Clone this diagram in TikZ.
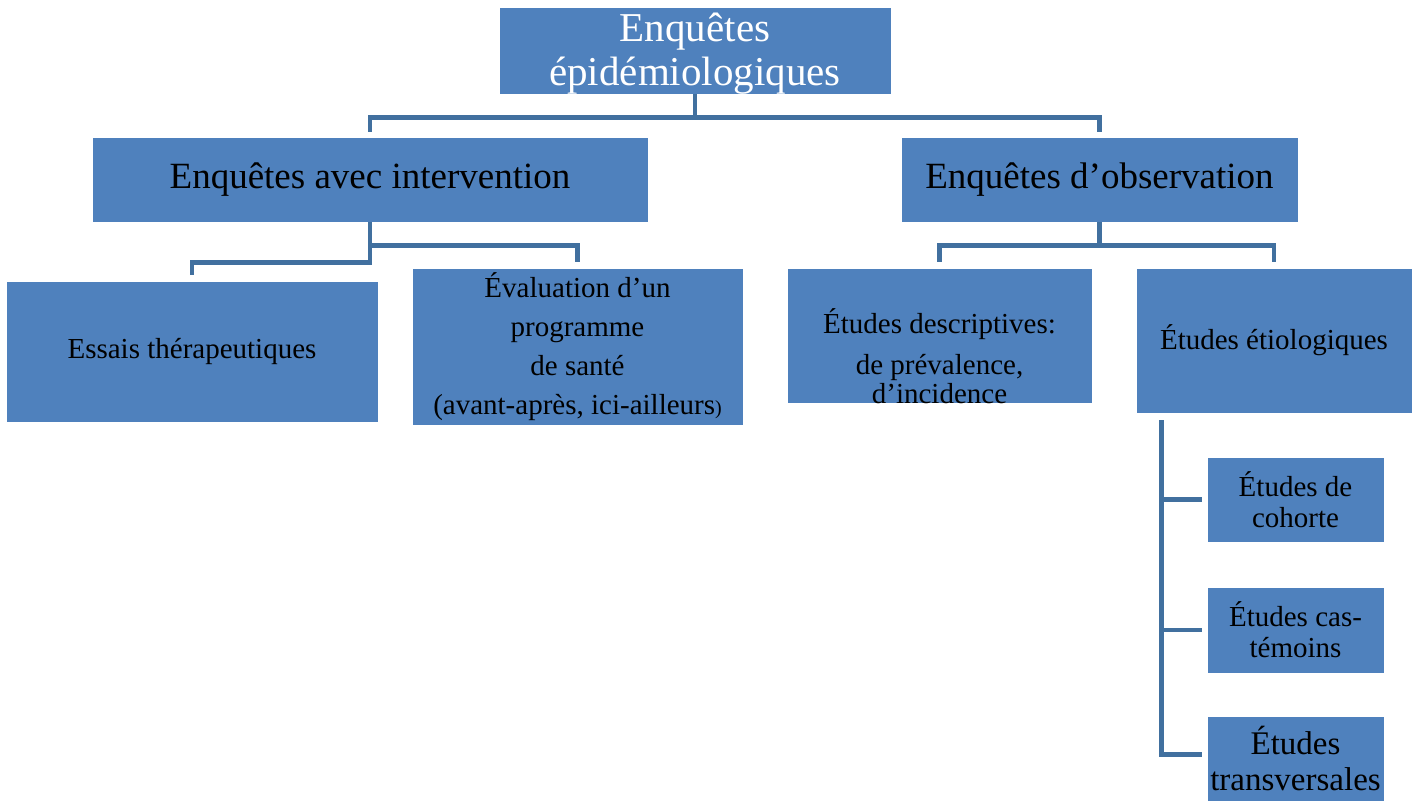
\documentclass[tikz,border=0pt]{standalone}
\usepackage{fontspec}
\setmainfont{Liberation Serif}
\newcommand\setfs[2]{\fontsize{#1}{#2}\selectfont}
\definecolor{boxblue}{HTML}{4F81BD}
\definecolor{linkblue}{HTML}{41709F}
\tikzset{
  box/.style={fill=boxblue, draw=white, line width=0.6pt, inner sep=0pt, align=center, text=black},
  conn/.style={draw=linkblue, line width=4.5pt, line join=miter},
  txt/.style={inner sep=0pt, align=center, text=black}
}
\begin{document}
\begin{tikzpicture}[x=1pt,y=-1pt]
\useasboundingbox[fill=white] (0,0) rectangle (1418,801);
% level 1
\node[box, minimum width=392pt, minimum height=87pt] (top) at (695,50.5) {};
\node[txt, text=white, font=\setfs{41}{44}] (topt) at (695,54)
  {Enquêtes\\épidémiologiques};
% level 2
\node[box, minimum width=556pt, minimum height=85pt, font=\setfs{37}{40}] (ial) at (370,179.5)
  {Enquêtes avec intervention};
\node[box, minimum width=397pt, minimum height=85pt, font=\setfs{37}{40}] (obs) at (1099.5,179.5)
  {Enquêtes d’observation};
% level 3
\node[box, minimum width=372pt, minimum height=141pt, font=\setfs{29}{32}] (ess) at (192,351.5)
  {Essais thérapeutiques};
\node[box, minimum width=331pt, minimum height=157pt, font=\setfs{29}{39}] (eval) at (577.5,346.5)
  {Évaluation d’un\\programme\\de santé\\(avant-après, ici-ailleurs{\setfs{20}{20})}};
\node[box, minimum width=305pt, minimum height=135pt] (desc) at (939.5,335.5) {};
\node[txt, font=\setfs{29}{33}] (desct) at (939.5,356)
  {Études descriptives:\\[8pt]de prévalence,\\[-4pt]d’incidence};
\node[box, minimum width=276pt, minimum height=145pt, font=\setfs{29}{33}] (etio) at (1274,340.5)
  {Études étiologiques};
% level 4
\node[box, minimum width=177pt, minimum height=85pt, font=\setfs{29}{31}] (coh) at (1295.5,499.5)
  {Études de\\cohorte};
\node[box, minimum width=177pt, minimum height=86pt, font=\setfs{29}{31}] (cas) at (1295.5,630)
  {Études cas-\\témoins};
\node[box, minimum width=177pt, minimum height=85pt, font=\setfs{33}{36}] (trans) at (1295.5,758.5)
  {Études\\transversales};
% connectors
\draw[conn] (top.south) -- ++(0,23) coordinate (j1);
\draw[conn] ([yshift=5pt]ial.north) |- (j1) -| ([yshift=5pt]obs.north);
\draw[conn] (ial.south) -- ++(0,40) -| ([yshift=6pt]ess.north);
\draw[conn] (ial.south) ++(0,23) -| ([yshift=6pt]eval.north);
\draw[conn] (obs.south) -- ++(0,23) coordinate (j2);
\draw[conn] ([yshift=6pt]desc.north) |- (j2) -| ([yshift=6pt]etio.north);
\coordinate (v) at ([xshift=26pt,yshift=-7pt]etio.south west);
\draw[conn] (v) |- ([xshift=-5pt,yshift=4pt]trans.west);
\draw[conn] (v |- coh.west) -- ([xshift=-5pt]coh.west);
\draw[conn] (v |- cas.west) -- ([xshift=-5pt]cas.west);
\end{tikzpicture}
\end{document}
